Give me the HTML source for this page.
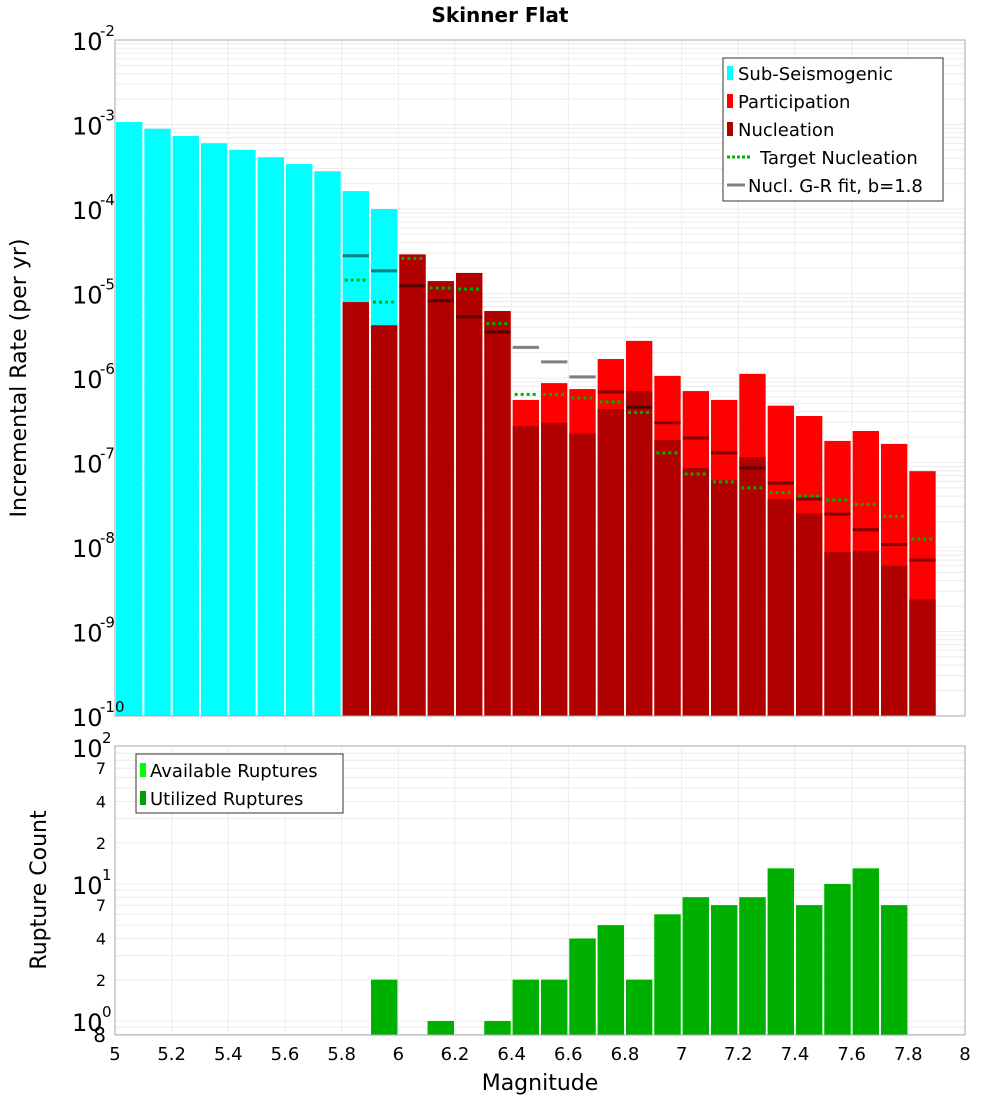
<!DOCTYPE html>
<html><head><meta charset="utf-8"><style>
body{margin:0;background:#fff;}
svg{display:block;font-family:"DejaVu Sans","Liberation Sans",sans-serif;}
</style></head><body>
<svg id="chart" width="1000" height="1100" viewBox="0 0 1000 1100" xmlns="http://www.w3.org/2000/svg">
<text x="500" y="22" text-anchor="middle" font-size="20" font-weight="bold">Skinner Flat</text>
<g id="top-grid"></g>
<g id="bot-grid"></g>
<g id="top-marks"></g>
<g id="bot-marks"></g>
<rect x="115" y="40" width="850" height="676" fill="none" stroke="#aaa"/>
<rect x="115" y="746" width="850" height="289" fill="none" stroke="#aaa"/>
<g id="axes"></g>
<text transform="translate(26,378) rotate(-90)" text-anchor="middle" font-size="22">Incremental Rate (per yr)</text>
<text transform="translate(46,890) rotate(-90)" text-anchor="middle" font-size="22">Rupture Count</text>
<text x="540" y="1090" text-anchor="middle" font-size="22">Magnitude</text>
<g>
<rect x="723" y="58" width="220" height="143" fill="#fff" stroke="#333"/>
<rect x="727" y="66" width="6" height="14" fill="#00ffff"/><text x="738" y="80" font-size="18">Sub-Seismogenic</text>
<rect x="727" y="94" width="6" height="14" fill="#ff0000"/><text x="738" y="108" font-size="18">Participation</text>
<rect x="727" y="122" width="6" height="14" fill="#b00000"/><text x="738" y="136" font-size="18">Nucleation</text>
<line x1="727" y1="157" x2="752" y2="157" stroke="#00b000" stroke-width="3" stroke-dasharray="3,2"/><text x="760" y="164" font-size="18">Target Nucleation</text>
<line x1="727" y1="185" x2="745" y2="185" stroke="#808080" stroke-width="3"/><text x="748" y="192" font-size="18">Nucl. G-R fit, b=1.8</text>
</g>
<g>
<rect x="136" y="754" width="207" height="59" fill="#fff" stroke="#333"/>
<rect x="140" y="763" width="6" height="14" fill="#00ff00"/><text x="150" y="777" font-size="18">Available Ruptures</text>
<rect x="140" y="791" width="6" height="14" fill="#00a000"/><text x="150" y="805" font-size="18">Utilized Ruptures</text>
</g>
</svg>
<script>
const mags=[5.0,5.1,5.2,5.3,5.4,5.5,5.6,5.7,5.8,5.9,6.0,6.1,6.2,6.3,6.4,6.5,6.6,6.7,6.8,6.9,7.0,7.1,7.2,7.3,7.4,7.5,7.6,7.7,7.8];
const subSeis=[1.07e-3,8.9e-4,7.3e-4,6.0e-4,5.0e-4,4.1e-4,3.4e-4,2.8e-4,1.63e-4,1.0e-4,null,null,null,null,null,null,null,null,null,null,null,null,null,null,null,null,null,null,null];
const participation=[null,null,null,null,null,null,null,null,7.9e-6,4.2e-6,2.9e-5,1.4e-5,1.75e-5,6.2e-6,5.5e-7,8.7e-7,7.4e-7,1.68e-6,2.75e-6,1.06e-6,7.0e-7,5.5e-7,1.12e-6,4.7e-7,3.55e-7,1.8e-7,2.36e-7,1.66e-7,7.9e-8];
const nucleation=[null,null,null,null,null,null,null,null,7.9e-6,4.2e-6,2.9e-5,1.4e-5,1.75e-5,6.2e-6,2.7e-7,2.95e-7,2.2e-7,4.3e-7,7.0e-7,1.85e-7,8.6e-8,6.2e-8,1.16e-7,3.7e-8,2.5e-8,8.7e-9,9.0e-9,6.0e-9,2.4e-9];
const targetNucl=[null,null,null,null,null,null,null,null,1.44e-5,7.9e-6,2.6e-5,1.16e-5,1.13e-5,4.4e-6,6.4e-7,6.4e-7,5.8e-7,5.2e-7,3.9e-7,1.3e-7,7.3e-8,5.9e-8,5.0e-8,4.4e-8,4.0e-8,3.6e-8,3.2e-8,2.3e-8,1.24e-8];
const grFit=[null,null,null,null,null,null,null,null,2.8e-5,1.85e-5,1.23e-5,8.2e-6,5.3e-6,3.5e-6,2.3e-6,1.55e-6,1.03e-6,6.8e-7,4.5e-7,2.95e-7,1.95e-7,1.3e-7,8.6e-8,5.7e-8,3.7e-8,2.45e-8,1.6e-8,1.07e-8,7.0e-9];
const counts=[0,0,0,0,0,0,0,0,0,2,0,1,0,1,2,2,4,5,2,6,8,7,8,13,7,10,13,7,0];
const xTicks=["5","5.2","5.4","5.6","5.8","6","6.2","6.4","6.6","6.8","7","7.2","7.4","7.6","7.8","8"];
const topExps=[-2,-3,-4,-5,-6,-7,-8,-9,-10];
const botMinorLabels=["7","4","2"];

const NS="http://www.w3.org/2000/svg";
function mk(parent,tag,attrs){const e=document.createElementNS(NS,tag);for(const k in attrs)e.setAttribute(k,attrs[k]);parent.appendChild(e);return e;}
const X=m=>115+(m-5)*850/3;
const YT=v=>40+(-2-Math.log10(v))*84.5;
const YB=v=>1021-Math.log10(v)*137;
const W=0.1*850/3;

const tg=document.getElementById('top-grid'),bg=document.getElementById('bot-grid');
const tm=document.getElementById('top-marks'),bm=document.getElementById('bot-marks'),ax=document.getElementById('axes');
// grid
for(let i=0;i<=15;i++){const x=X(5+i*0.2);
 let l=mk(tg,'line',{x1:x,x2:x,y1:40,y2:716,stroke:'#ececec'});
 l=mk(bg,'line',{x1:x,x2:x,y1:746,y2:1035,stroke:'#ececec'});}
for(let e=-10;e<-2;e++){for(let k=1;k<10;k++){const y=YT(k*Math.pow(10,e));
 const l=mk(tg,'line',{x1:115,x2:965,y1:y,y2:y,stroke:'#ececec'});}}
for(let e=-1;e<2;e++){for(let k=1;k<10;k++){const v=k*Math.pow(10,e);if(v<0.8)continue;const y=YB(v);
 const l=mk(bg,'line',{x1:115,x2:965,y1:y,y2:y,stroke:'#ececec'});}}
// bars
function bar(g,arr,color,name,Y,base){arr.forEach((v,i)=>{if(!v)return;const y=Y(v);
 const r=mk(g,'rect',{x:X(mags[i])+1,y:y,width:W-2,height:base-y,fill:color});
 });}
bar(tm,subSeis,'#00ffff','sub-seismogenic-bar',YT,716);
bar(tm,participation,'#ff0000','participation-bar',YT,716);
bar(tm,nucleation,'#b00000','nucleation-bar',YT,716);
targetNucl.forEach((v,i)=>{if(!v)return;const y=YT(v);
 const l=mk(tm,'line',{x1:X(mags[i])+3,x2:X(mags[i])+W-3,y1:y,y2:y,stroke:'#00b000','stroke-width':3,'stroke-dasharray':'3,3'});
 });
grFit.forEach((v,i)=>{if(!v)return;const y=YT(v);
 const l=mk(tm,'line',{x1:X(mags[i])+1,x2:X(mags[i])+W-1,y1:y,y2:y,stroke:'#7f7f7f','stroke-width':3,style:'mix-blend-mode:multiply'});
 });
bar(bm,counts,'#00ff00','available-ruptures-bar',YB,1035);
bar(bm,counts,'#00b000','utilized-ruptures-bar',YB,1035);
// axes labels
xTicks.forEach(t=>{const e=mk(ax,'text',{x:X(parseFloat(t)),y:1060,'text-anchor':'middle','font-size':18});e.textContent=t;
 });
topExps.forEach(e=>{const y=YT(Math.pow(10,e));const t=mk(ax,'text',{x:72,y:y+10,'font-size':24});t.textContent='10';
 
 const s=mk(ax,'text',{x:100,y:y-4,'font-size':15});s.textContent=String(e);
 });
[0,1,2].forEach(e=>{const y=YB(Math.pow(10,e));const t=mk(ax,'text',{x:72,y:y+10,'font-size':24});t.textContent='10';
 
 const s=mk(ax,'text',{x:102,y:y-4,'font-size':15});s.textContent=String(e);
 
 if(e<2)botMinorLabels.forEach(m=>{const yy=YB(parseFloat(m)*Math.pow(10,e));const u=mk(ax,'text',{x:106,y:yy+6,'font-size':16,'text-anchor':'end'});u.textContent=m;
  });});
const eight=mk(ax,'text',{x:106,y:1042,'font-size':20,'text-anchor':'end'});eight.textContent='8';

</script>
</body></html>
